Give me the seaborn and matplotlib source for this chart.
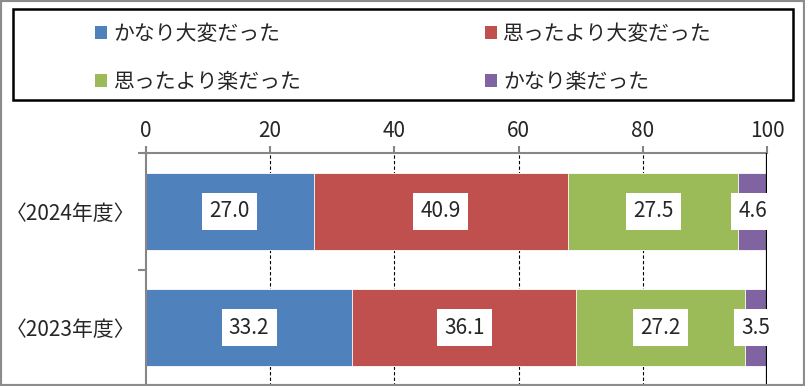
import numpy as np
import pandas as pd
import seaborn as sns
import matplotlib.pyplot as plt
from matplotlib.patches import Rectangle, Patch

years = ["〈2024年度〉", "〈2023年度〉"]
series = ["かなり大変だった", "思ったより大変だった", "思ったより楽だった", "かなり楽だった"]
kanari_taihen = [27.0, 33.2]
omotta_taihen = [40.9, 36.1]
omotta_raku = [27.5, 27.2]
kanari_raku = [4.6, 3.5]
colors = ["#4F81BD", "#C0504D", "#9BBB59", "#8064A2"]

sns.set_style("white")
plt.rcParams["font.family"] = ["Noto Sans CJK JP", "DejaVu Sans"]

vals = np.array([kanari_taihen, omotta_taihen, omotta_raku, kanari_raku])
cum = vals.cumsum(axis=0)

fig = plt.figure(figsize=(8.05, 3.86), dpi=100)
ax = fig.add_axes([146 / 805, 0.0, (767 - 146) / 805, 1 - 153 / 386])

# stacked bars: draw longest first, shorter ones on top
for i in range(3, -1, -1):
    df = pd.DataFrame({"year": years, "val": cum[i]})
    sns.barplot(data=df, x="val", y="year", orient="h", color=colors[i],
                width=0.66, edgecolor="white", linewidth=0.6, saturation=1,
                ax=ax, zorder=2)

for i in range(4):
    for j in range(2):
        ax.text(cum[i][j] - vals[i][j] / 2, j, f"{vals[i][j]:.1f}",
                ha="center", va="center", fontsize=15, zorder=5,
                bbox=dict(boxstyle="square,pad=0.35", facecolor="white", edgecolor="none"))

ax.set_xlim(0, 100)
ax.set_ylim(1.5, -0.5)
ax.set_xticks([0, 20, 40, 60, 80, 100])
ax.set_xticklabels(["0", "20", "40", "60", "80", "100"], fontsize=15)
ax.xaxis.tick_top()
ax.tick_params(axis="x", which="major", direction="out", length=5, width=1.5,
               color="#868686", pad=3, top=True, bottom=False)
ax.set_yticks([-0.5, 0.5, 1.5])
ax.set_yticklabels([])
ax.set_yticks([0, 1], minor=True)
ax.set_yticklabels(years, minor=True, fontsize=15)
ax.tick_params(axis="y", which="major", direction="out", length=6, width=1.5,
               color="#868686", left=True)
ax.tick_params(axis="y", which="minor", length=0, pad=8)
ax.set_xlabel("")
ax.set_ylabel("")

for x in [20, 40, 60, 80]:
    ax.axvline(x, color="black", linestyle=(0, (3, 2)), linewidth=0.8, zorder=1)
ax.axvline(100, color="black", linewidth=1.6, zorder=3)

for s in ["bottom", "right"]:
    ax.spines[s].set_visible(False)
for s in ["top", "left"]:
    ax.spines[s].set_color("#868686")
    ax.spines[s].set_linewidth(1.5)

# legend box
fig.patches.append(Rectangle((13 / 805, 1 - 100 / 386), 780 / 805, 91 / 386,
                             transform=fig.transFigure, fill=False,
                             edgecolor="black", linewidth=1.8))
# legend fills column by column, so reorder to get row order of the reference
order = [0, 2, 1, 3]
handles = [Patch(facecolor=colors[k], edgecolor="none") for k in order]
labels = [series[k] for k in order]
fig.legend(handles, labels, loc="center left", bbox_to_anchor=(76 / 805, 1 - 58 / 386),
           ncol=2, frameon=False, fontsize=15, handlelength=0.6, handleheight=0.6,
           handletextpad=0.3, columnspacing=8.8, labelspacing=1.25)

# outer border
fig.patches.append(Rectangle((0, 0), 1, 1, transform=fig.transFigure, fill=False,
                             edgecolor="#8c8c8c", linewidth=3))

fig.savefig("out.png", dpi=100)
